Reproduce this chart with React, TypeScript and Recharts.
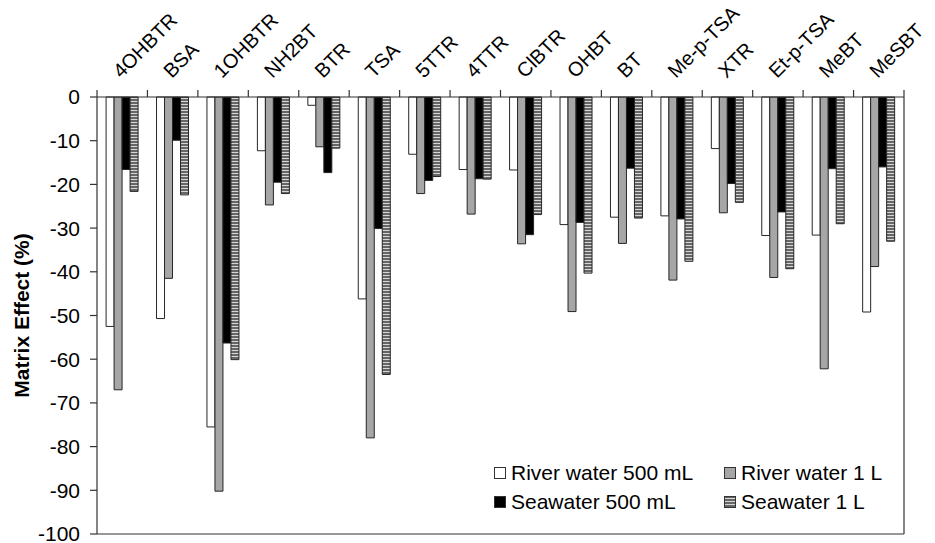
import { BarChart, Bar, XAxis, YAxis, Legend } from 'recharts';

const categories = [
  '4OHBTR', 'BSA', '1OHBTR', 'NH2BT', 'BTR', 'TSA', '5TTR', '4TTR',
  'ClBTR', 'OHBT', 'BT', 'Me-p-TSA', 'XTR', 'Et-p-TSA', 'MeBT', 'MeSBT',
];
const river500 = [-52.5, -50.7, -75.5, -12.3, -1.9, -46.2, -13.1, -16.6, -16.7, -29.2, -27.5, -27.2, -11.8, -31.7, -31.6, -49.2];
const river1L = [-67.0, -41.5, -90.2, -24.7, -11.4, -78.0, -22.1, -26.8, -33.6, -49.1, -33.5, -41.9, -26.5, -41.3, -62.2, -38.8];
const sea500 = [-16.6, -9.9, -56.3, -19.5, -17.3, -30.1, -19.1, -18.7, -31.5, -28.7, -16.3, -27.9, -19.8, -26.3, -16.4, -16.0];
const sea1L = [-21.6, -22.4, -60.1, -22.1, -11.7, -63.5, -18.2, -18.8, -26.9, -40.3, -27.7, -37.6, -24.1, -39.3, -29.0, -33.0];
const yTicks = [0, -10, -20, -30, -40, -50, -60, -70, -80, -90, -100];

const series = [
  { key: 'river500', name: 'River water 500 mL', fill: '#ffffff' },
  { key: 'river1L', name: 'River water 1 L', fill: '#a6a6a6' },
  { key: 'sea500', name: 'Seawater 500 mL', fill: '#000000' },
  { key: 'sea1L', name: 'Seawater 1 L', fill: 'url(#hatch)' },
];

const data = categories.map((name, i) => ({
  name,
  river500: river500[i],
  river1L: river1L[i],
  sea500: sea500[i],
  sea1L: sea1L[i],
}));

const W = 935;
const H = 543;
const LEFT = 97;
const RIGHT = 31;
const BAND = (W - LEFT - RIGHT) / categories.length;
const AXIS = '#333333';
const FONT = '"Liberation Sans", Arial, sans-serif';

// top category labels, slanted, with tick marks on the group boundaries
function renderCategoryTick(props: any) {
  const x = Number(props.x);
  const y = Number(props.y);
  const index = props.index;
  const half = BAND / 2;
  const tx = x - 1;
  const ty = y - 18;
  return (
    <g key={`ct-${index}`}>
      <line x1={x - half} x2={x - half} y1={y} y2={y - 7} stroke={AXIS} strokeWidth={1.2} />
      {index === categories.length - 1 && (
        <line x1={x + half} x2={x + half} y1={y} y2={y - 7} stroke={AXIS} strokeWidth={1.2} />
      )}
      <g transform={`translate(${tx}, ${ty}) rotate(-45)`}>
        <text x={0} y={0} fontSize={20} fontFamily={FONT} fill="#000" textAnchor="start">
          {props.payload.value}
        </text>
      </g>
    </g>
  );
}

function Swatch({ fill }: { fill: string }) {
  return (
    <svg width={12} height={12} style={{ marginRight: 5, flexShrink: 0 }}>
      <defs>
        <pattern id="hatchLegend" patternUnits="userSpaceOnUse" width={4} height={3}>
          <rect width={4} height={3} fill="#666666" />
          <rect y={2} width={4} height={1} fill="#d6d6d6" />
        </pattern>
      </defs>
      <rect
        x={0.5}
        y={0.5}
        width={11}
        height={11}
        fill={fill === 'url(#hatch)' ? 'url(#hatchLegend)' : fill}
        stroke="#333"
      />
    </svg>
  );
}

function LegendBox() {
  return (
    <div style={{ display: 'flex', flexWrap: 'wrap', width: 460, fontFamily: FONT, fontSize: 21 }}>
      {series.map((s) => (
        <div key={s.key} style={{ display: 'flex', alignItems: 'center', width: 230, height: 29 }}>
          <Swatch fill={s.fill} />
          <span>{s.name}</span>
        </div>
      ))}
    </div>
  );
}

export default function App() {
  return (
    <div style={{ position: 'absolute', left: 0, top: 0, background: '#fff' }}>
      <BarChart
        width={W}
        height={H}
        data={data}
        margin={{ top: 0, right: RIGHT - 1, bottom: 8, left: 0 }}
        barCategoryGap="18%"
        barGap={0}
      >
        <defs>
          <pattern id="hatch" patternUnits="userSpaceOnUse" width={4} height={3}>
            <rect width={4} height={3} fill="#666666" />
            <rect y={2} width={4} height={1} fill="#d6d6d6" />
          </pattern>
        </defs>
        <XAxis
          dataKey="name"
          orientation="top"
          height={97}
          interval={0}
          tickSize={0}
          tickMargin={0}
          tickLine={false}
          axisLine={{ stroke: AXIS, strokeWidth: 1.2 }}
          tick={renderCategoryTick}
        />
        <XAxis
          xAxisId="bottom"
          dataKey="name"
          orientation="bottom"
          height={1}
          tick={false}
          tickLine={false}
          axisLine={{ stroke: AXIS, strokeWidth: 1.2 }}
        />
        <YAxis
          domain={[-100, 0]}
          ticks={yTicks}
          width={LEFT}
          interval={0}
          tickSize={7}
          tickMargin={10}
          tickLine={{ stroke: AXIS, strokeWidth: 1.2 }}
          axisLine={{ stroke: AXIS, strokeWidth: 1.2 }}
          tick={{ fontSize: 21, fill: '#000', fontFamily: FONT }}
          label={(p: any) => {
            const vb = p.viewBox || { y: 97, height: 437 };
            const cy = vb.y + vb.height / 2;
            return (
              <text
                x={29}
                y={cy}
                transform={`rotate(-90 29 ${cy})`}
                textAnchor="middle"
                fontSize={21}
                fontWeight="bold"
                fontFamily={FONT}
                fill="#000"
              >
                Matrix Effect (%)
              </text>
            );
          }}
        />
        <YAxis
          yAxisId="right"
          orientation="right"
          domain={[-100, 0]}
          width={1}
          tick={false}
          tickLine={false}
          axisLine={{ stroke: AXIS, strokeWidth: 1.2 }}
        />
        <Legend
          layout="vertical"
          align="center"
          verticalAlign="middle"
          wrapperStyle={{ left: 494, top: 458, width: 460 }}
          content={() => <LegendBox />}
        />
        {series.map((s) => (
          <Bar
            key={s.key}
            dataKey={s.key}
            name={s.name}
            fill={s.fill}
            stroke="#262626"
            strokeWidth={1}
            isAnimationActive={false}
          />
        ))}
      </BarChart>
    </div>
  );
}
